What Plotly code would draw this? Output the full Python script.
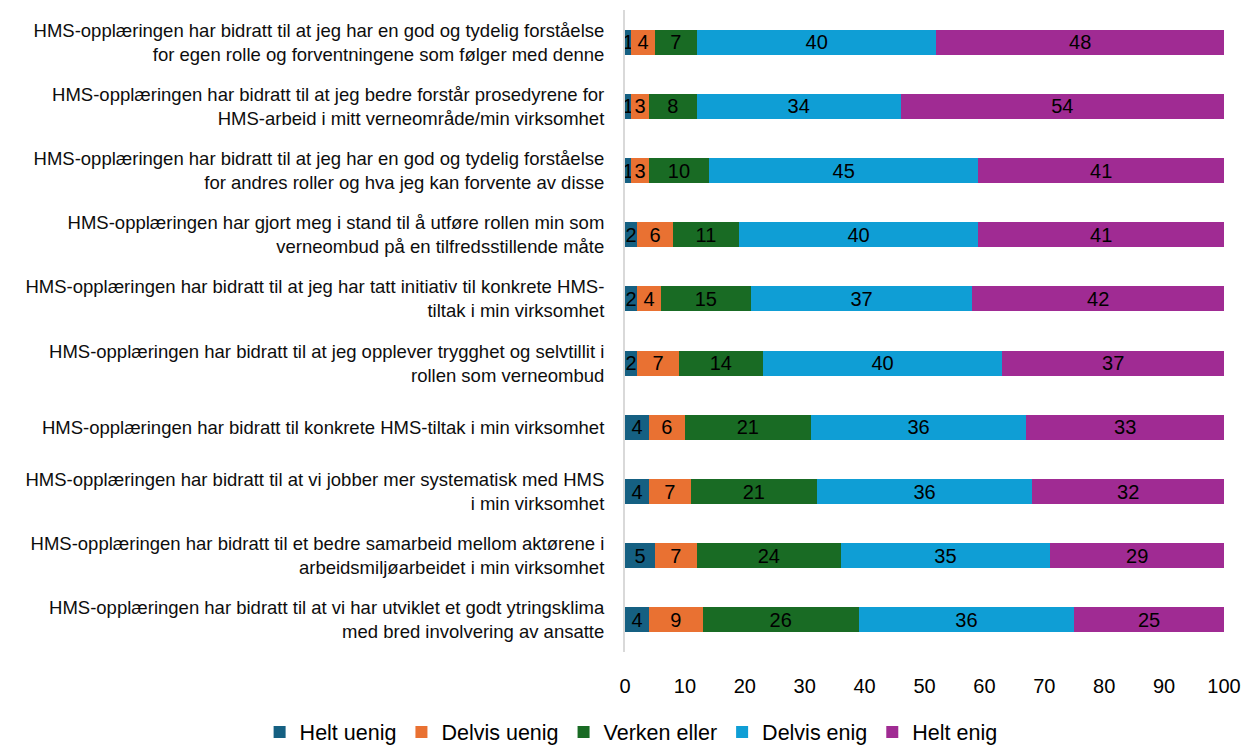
import plotly.graph_objects as go

categories = [
    "HMS-opplæringen har bidratt til at jeg har en god og tydelig forståelse<br>for egen rolle og forventningene som følger med denne",
    "HMS-opplæringen har bidratt til at jeg bedre forstår prosedyrene for<br>HMS-arbeid i mitt verneområde/min virksomhet",
    "HMS-opplæringen har bidratt til at jeg har en god og tydelig forståelse<br>for andres roller og hva jeg kan forvente av disse",
    "HMS-opplæringen har gjort meg i stand til å utføre rollen min som<br>verneombud på en tilfredsstillende måte",
    "HMS-opplæringen har bidratt til at jeg har tatt initiativ til konkrete HMS-<br>tiltak i min virksomhet",
    "HMS-opplæringen har bidratt til at jeg opplever trygghet og selvtillit i<br>rollen som verneombud",
    "HMS-opplæringen har bidratt til konkrete HMS-tiltak i min virksomhet",
    "HMS-opplæringen har bidratt til at vi jobber mer systematisk med HMS<br>i min virksomhet",
    "HMS-opplæringen har bidratt til et bedre samarbeid mellom aktørene i<br>arbeidsmiljøarbeidet i min virksomhet",
    "HMS-opplæringen har bidratt til at vi har utviklet et godt ytringsklima<br>med bred involvering av ansatte",
]

helt_uenig = [1, 1, 1, 2, 2, 2, 4, 4, 5, 4]
delvis_uenig = [4, 3, 3, 6, 4, 7, 6, 7, 7, 9]
verken_eller = [7, 8, 10, 11, 15, 14, 21, 21, 24, 26]
delvis_enig = [40, 34, 45, 40, 37, 40, 36, 36, 35, 36]
helt_enig = [48, 54, 41, 41, 42, 37, 33, 32, 29, 25]

series = [
    ("Helt uenig", helt_uenig, "#156082"),
    ("Delvis uenig", delvis_uenig, "#E97132"),
    ("Verken eller", verken_eller, "#196B24"),
    ("Delvis enig", delvis_enig, "#0F9ED5"),
    ("Helt enig", helt_enig, "#A02B93"),
]

FONT = "Liberation Sans, Arial, sans-serif"

fig = go.Figure()
for name, vals, color in series:
    fig.add_trace(go.Bar(
        y=categories, x=vals, name=name, orientation="h",
        marker=dict(color=color, line=dict(width=0)),
        text=[str(v) for v in vals], textposition="inside", textangle=0,
        insidetextanchor="middle", constraintext="none",
        textfont=dict(family=FONT, size=20, color="#000000"),
        cliponaxis=False,
    ))

fig.update_layout(
    barmode="stack",
    bargap=0.61,
    width=1243, height=745,
    margin=dict(l=625, r=19, t=10, b=93, autoexpand=False),
    plot_bgcolor="white", paper_bgcolor="white",
    font=dict(family=FONT, color="#000000"),
    xaxis=dict(
        range=[0, 100], dtick=10, showgrid=False, zeroline=False,
        ticks="", ticklabelstandoff=20,
        tickfont=dict(family=FONT, size=20, color="#000000"),
    ),
    yaxis=dict(
        autorange="reversed", showgrid=False, zeroline=False,
        showline=True, linecolor="#d9d9d9", linewidth=2,
        ticks="", ticklabelstandoff=15,
        tickfont=dict(family=FONT, size=18.5, color="#0d0d0d"),
    ),
    legend=dict(
        orientation="h", xref="paper", yref="paper",
        x=-0.61, xanchor="left", y=-0.1246, yanchor="middle",
        font=dict(family=FONT, size=21.5, color="#000000"),
        itemwidth=30, traceorder="normal",
    ),
    showlegend=True,
)

fig.write_html("out.html")
